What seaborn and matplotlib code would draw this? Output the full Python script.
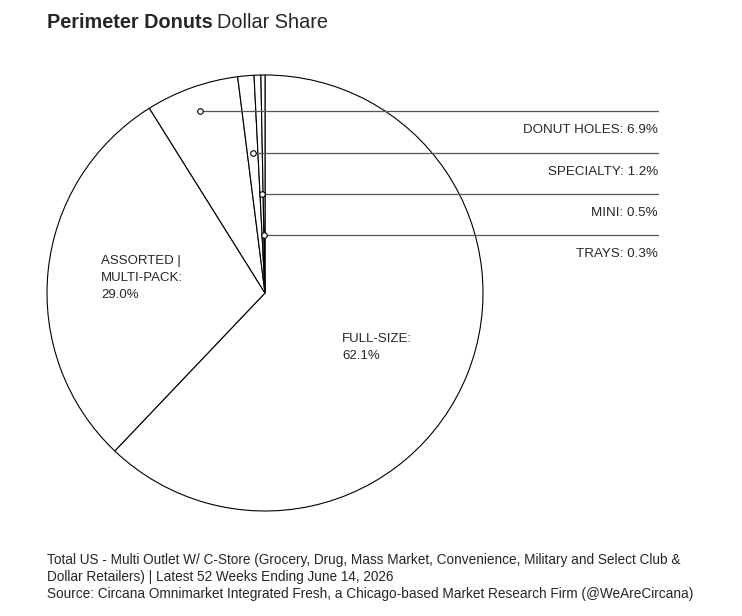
import numpy as np
import matplotlib
matplotlib.use("Agg")
import matplotlib.pyplot as plt
import seaborn as sns

# data (clockwise from 12 o'clock)
segments = ["FULL-SIZE", "ASSORTED | MULTI-PACK", "DONUT HOLES", "SPECIALTY", "MINI", "TRAYS"]
shares = [62.1, 29.0, 6.9, 1.2, 0.5, 0.3]
small = ["DONUT HOLES", "SPECIALTY", "MINI", "TRAYS"]
footer = [
    "Total US - Multi Outlet W/ C-Store (Grocery, Drug, Mass Market, Convenience, Military and Select Club &",
    "Dollar Retailers) | Latest 52 Weeks Ending June 14, 2026",
    "Source: Circana Omnimarket Integrated Fresh, a Chicago-based Market Research Firm (@WeAreCircana)",
]

sns.set_theme(style="white")
plt.rcParams["font.family"] = ["Liberation Sans", "DejaVu Sans"]

W, H = 742, 616
fig = plt.figure(figsize=(W / 100, H / 100), dpi=100)

# pie geometry in pixels
cx, cy, R = 265, 293, 218
left_px, right_px, top_px, bot_px = 30, 712, 60, 535
ax = fig.add_axes([left_px / W, 1 - bot_px / H, (right_px - left_px) / W, (bot_px - top_px) / H])

wedges, _ = ax.pie(shares, startangle=90, counterclock=False, colors=["white"] * len(shares),
                   wedgeprops=dict(edgecolor="black", linewidth=0.8))
ax.set_xlim((left_px - cx) / R, (right_px - cx) / R)
ax.set_ylim((cy - bot_px) / R, (cy - top_px) / R)
ax.set_aspect("equal")
ax.axis("off")

# inside labels
ax.text((101 - cx) / R, (cy - 255) / R, "ASSORTED |\nMULTI-PACK:\n29.0%", ha="left", va="top",
        fontsize=9.5, linespacing=1.58)
ax.text((342 - cx) / R, (cy - 333) / R, "FULL-SIZE:\n62.1%", ha="left", va="top",
        fontsize=9.5, linespacing=1.58)

# leader lines for the thin slices
cum = np.cumsum([0] + shares)
line_y = [(cy - 111) / R, (cy - 153) / R, (cy - 194) / R, (cy - 235) / R]
line_end = (658 - cx) / R
for name, ly in zip(small, line_y):
    i = segments.index(name)
    mid = (cum[i] + cum[i + 1]) / 2 / 100 * 2 * np.pi
    # angle measured clockwise from top
    mx = ly * np.tan(mid)
    ax.plot([mx, line_end], [ly, ly], color="#555555", lw=0.9, zorder=3)
    ax.plot(mx, ly, "o", ms=4, mfc="white", mec="black", mew=0.8, zorder=4)
    ax.text(line_end, ly - 0.058, f"{name}: {shares[i]}%", ha="right", va="top", fontsize=9.6)

# title
t1 = fig.text(47 / W, 1 - 22 / H, "Perimeter Donuts", fontsize=14.3, fontweight="bold", va="center")
fig.canvas.draw()
bb = t1.get_window_extent()
fig.text(bb.x1 / W + 4 / W, 1 - 22 / H, "Dollar Share", fontsize=14.3, va="center")

# footer
for k, line in enumerate(footer):
    fig.text(47 / W, 1 - (560 + 17 * k) / H, line, fontsize=9.8, va="center")

fig.savefig("out.png", dpi=100, facecolor="white")
